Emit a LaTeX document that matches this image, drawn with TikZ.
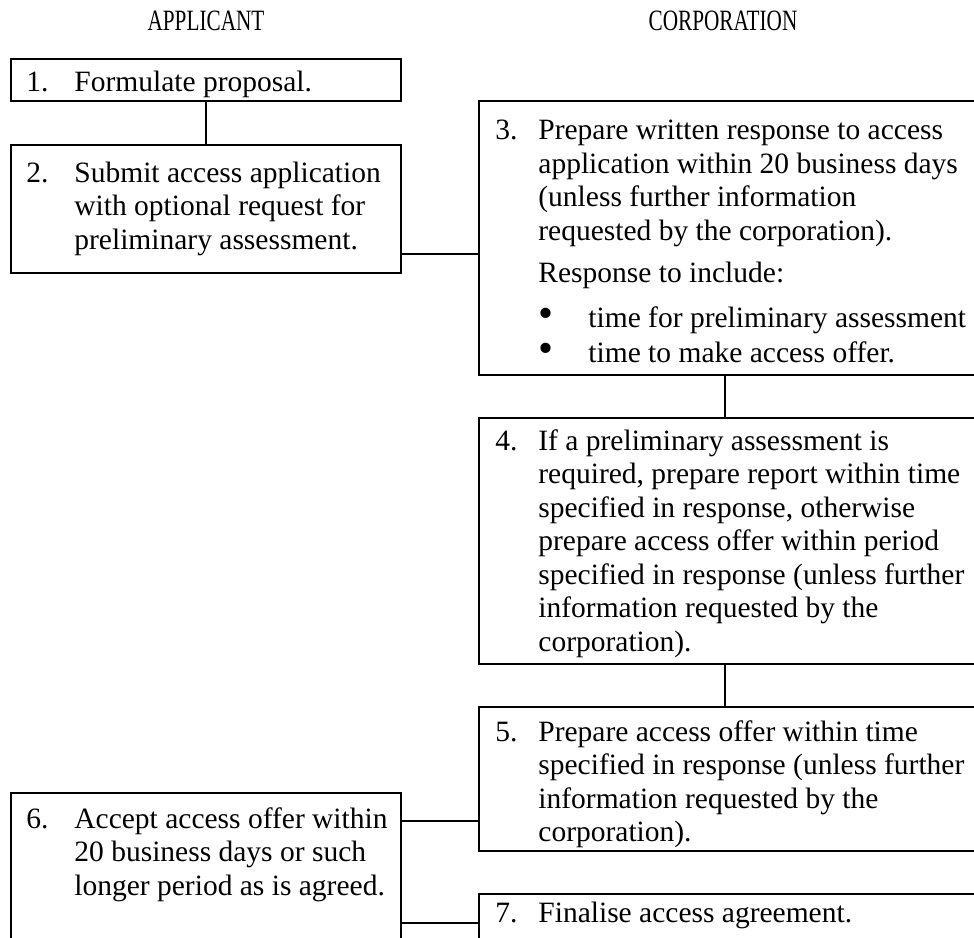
\documentclass[tikz,border=0pt]{standalone}
\usepackage{fontspec}
\setmainfont{Liberation Serif}
\usepackage{graphicx}
\usepackage{tikz}
\newcommand{\bodyfont}{\fontsize{14.75}{16.75}\selectfont}
\tikzset{
  box/.style={draw,line width=1.1pt,anchor=north west,inner sep=0pt,outer sep=0pt},
  num/.style={anchor=base west,inner sep=0pt,font=\bodyfont},
  txt/.style={anchor=base west,inner sep=0pt,align=left,font=\bodyfont},
  head/.style={anchor=base,inner sep=0pt,font=\bodyfont},
  link/.style={line width=1.1pt}
}
\newcommand{\stagebox}[5]{\node[box,minimum width={(#4-#2)*0.5pt},minimum height={(#5-#3)*0.5pt}] (#1) at (#2,#3) {};}
\newcommand{\narrowcap}[1]{\scalebox{0.72}[1]{#1}}
\newcommand{\bigdot}{\raisebox{0pt}[0.5em][0pt]{\scalebox{1.45}{\textbullet}}}

\begin{document}
\begin{tikzpicture}[x=0.5pt,y=-0.5pt]
\useasboundingbox (0,0) rectangle (974,937);
\clip (0,0) rectangle (974,937);
\fill[white] (0,0) rectangle (974,937);
\node[head] (happ) at (206,31) {\narrowcap{APPLICANT}};
\node[head] (hcorp) at (723,31) {\narrowcap{CORPORATION}};
\stagebox{b1}{11}{59}{401}{101}
\stagebox{b2}{11}{145}{401}{273}
\stagebox{b3}{479}{101}{1000}{375}
\stagebox{b4}{479}{418}{1000}{664}
\stagebox{b5}{479}{707}{1000}{851}
\stagebox{b6}{11}{793}{401}{1000}
\stagebox{b7}{479}{894}{1000}{1000}
\node[num] (n1) at (26,91) {1.}; \node[txt] (t1) at (74,91) {Formulate proposal.};
\node[num] (n2) at (26,182) {2.};
\node[txt] (t2) at (74,249) {Submit access application\\with optional request for\\preliminary assessment.};
\node[num] (n3) at (495,139.5) {3.};
\node[txt] (t3) at (538,240) {Prepare written response to access\\application within 20 business days\\(unless further information\\requested by the corporation).};
\node[txt] (t3r) at (538,282) {Response to include:};
\node[num] (d3a) at (538,327) {\bigdot}; \node[txt] (t3a) at (588,327) {time for preliminary assessment};
\node[num] (d3b) at (538,362) {\bigdot}; \node[txt] (t3b) at (588,362) {time to make access offer.};
\node[num] (n4) at (495,450) {4.};
\node[txt] (t4) at (538,651) {If a preliminary assessment is\\required, prepare report within time\\specified in response, otherwise\\prepare access offer within period\\specified in response (unless further\\information requested by the\\corporation).};
\node[num] (n5) at (495,741) {5.};
\node[txt] (t5) at (538,841.5) {Prepare access offer within time\\specified in response (unless further\\information requested by the\\corporation).};
\node[num] (n6) at (26,828) {6.};
\node[txt] (t6) at (74,895) {Accept access offer within\\20 business days or such\\longer period as is agreed.};
\node[num] (n7) at (495,922) {7.}; \node[txt] (t7) at (538,922) {Finalise access agreement.};
\coordinate (spine) at (725,0);
\coordinate (r23) at (0,254); \coordinate (r65) at (0,821); \coordinate (r67) at (0,923);
\draw[link] (b1.south) -- (b2.north);
\draw[link] (b2.east |- r23) -- (b3.west |- r23);
\draw[link] (b3.south -| spine) -- (b4.north -| spine);
\draw[link] (b4.south -| spine) -- (b5.north -| spine);
\draw[link] (b6.east |- r65) -- (b5.west |- r65);
\draw[link] (b6.east |- r67) -- (b7.west |- r67);
\end{tikzpicture}
\end{document}
